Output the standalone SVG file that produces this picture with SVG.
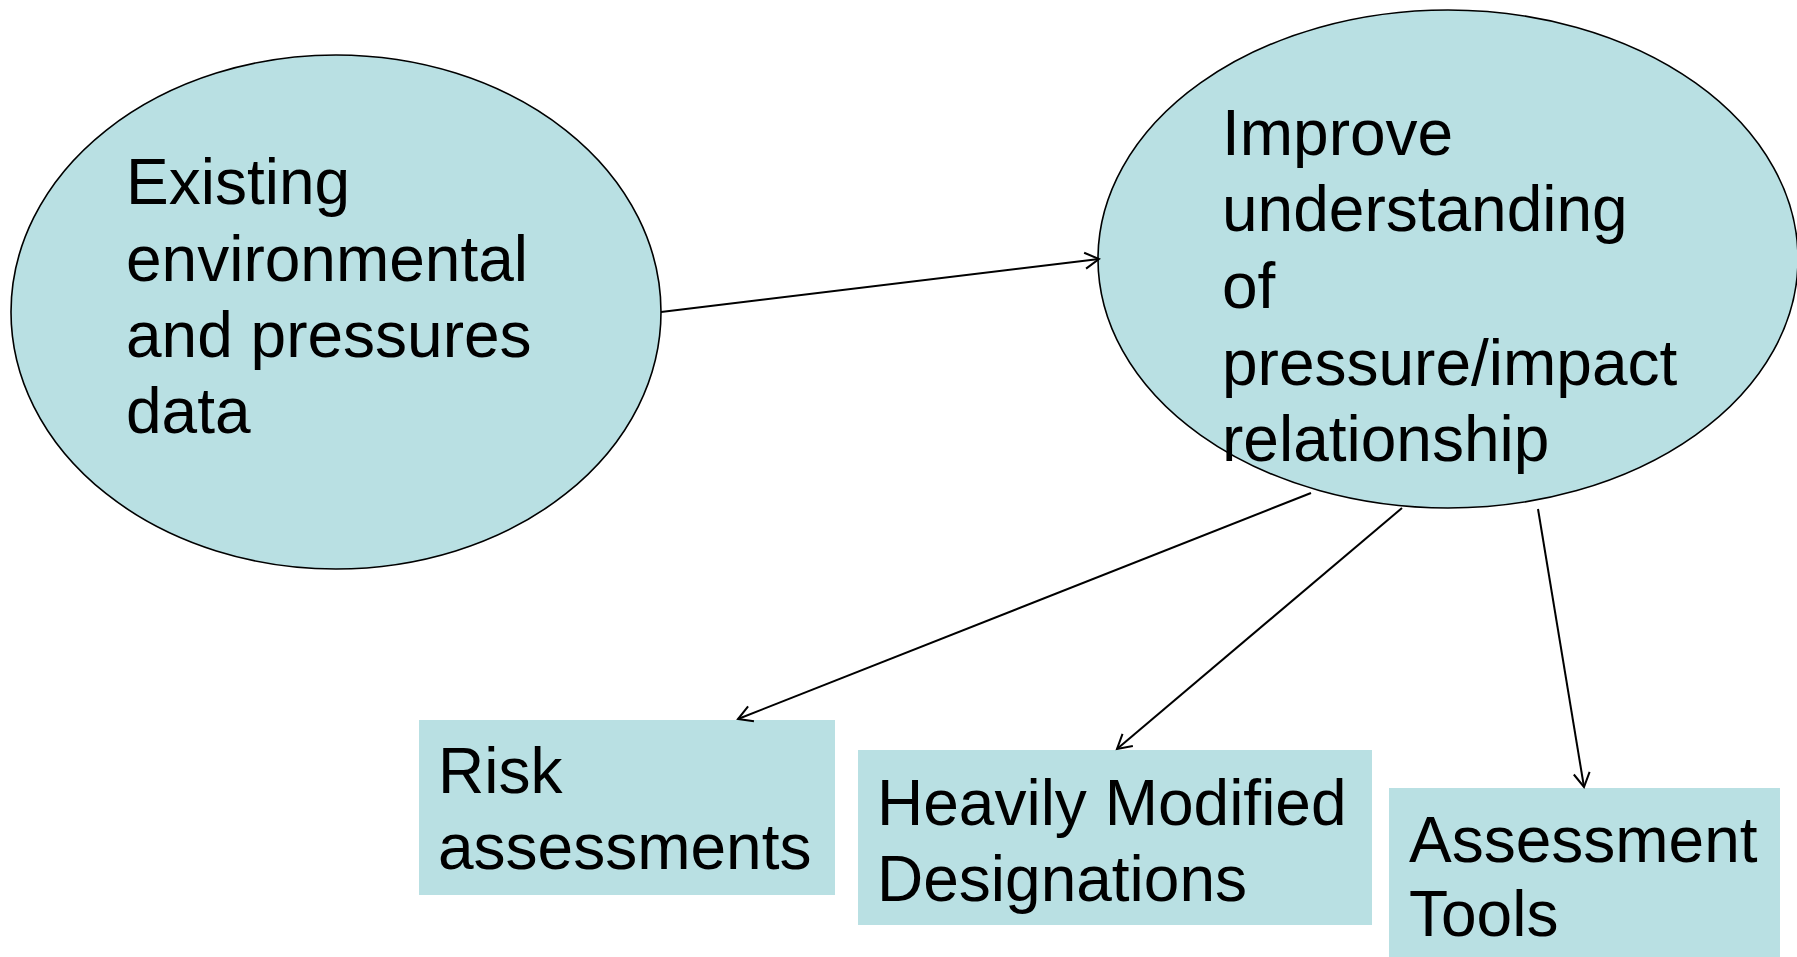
<svg xmlns="http://www.w3.org/2000/svg" width="1797" height="957" viewBox="0 0 1797 957">
<defs>
<marker id="arr" markerUnits="userSpaceOnUse" markerWidth="30" markerHeight="30" refX="16" refY="10" orient="auto" viewBox="0 0 30 20">
<path d="M2,2 L16,10 L2,18" fill="none" stroke="#000" stroke-width="2"/>
</marker>
</defs>
<style>
.shape{fill:#B9E0E3;stroke:#000;stroke-width:1.6}
.box{fill:#B9E0E3;stroke:none}
.t{font-family:"Liberation Sans",Arial,sans-serif;font-size:64px;fill:#000}
.c{stroke:#000;stroke-width:2;fill:none;marker-end:url(#arr)}
</style>
<rect width="1797" height="957" fill="#fff"/>
<g id="node-existing">
<ellipse class="shape" cx="336" cy="312" rx="325" ry="257"/>
<text class="t"><tspan x="126" y="204">Existing</tspan><tspan x="126" y="281">environmental</tspan><tspan x="126" y="357">and pressures</tspan><tspan x="126" y="433">data</tspan></text>
</g>
<g id="node-improve">
<ellipse class="shape" cx="1448" cy="259" rx="350" ry="249"/>
<text class="t"><tspan x="1222" y="155">Improve</tspan><tspan x="1222" y="231">understanding</tspan><tspan x="1222" y="308">of</tspan><tspan x="1222" y="385">pressure/impact</tspan><tspan x="1222" y="461">relationship</tspan></text>
</g>
<g id="node-risk">
<rect class="box" x="419" y="720" width="416" height="175"/>
<text class="t"><tspan x="438" y="793">Risk</tspan><tspan x="438" y="869">assessments</tspan></text>
</g>
<g id="node-hmd">
<rect class="box" x="858" y="750" width="514" height="175"/>
<text class="t"><tspan x="877" y="825">Heavily Modified</tspan><tspan x="877" y="901">Designations</tspan></text>
</g>
<g id="node-tools">
<rect class="box" x="1389" y="788" width="391" height="169"/>
<text class="t"><tspan x="1409" y="862">Assessment</tspan><tspan x="1409" y="936">Tools</tspan></text>
</g>
<g id="connectors">
<line class="c" x1="661" y1="312" x2="1099" y2="259"/>
<line class="c" x1="1311" y1="493" x2="738" y2="719"/>
<line class="c" x1="1402" y1="508" x2="1117" y2="749"/>
<line class="c" x1="1538" y1="509" x2="1584" y2="787"/>
</g>
</svg>
